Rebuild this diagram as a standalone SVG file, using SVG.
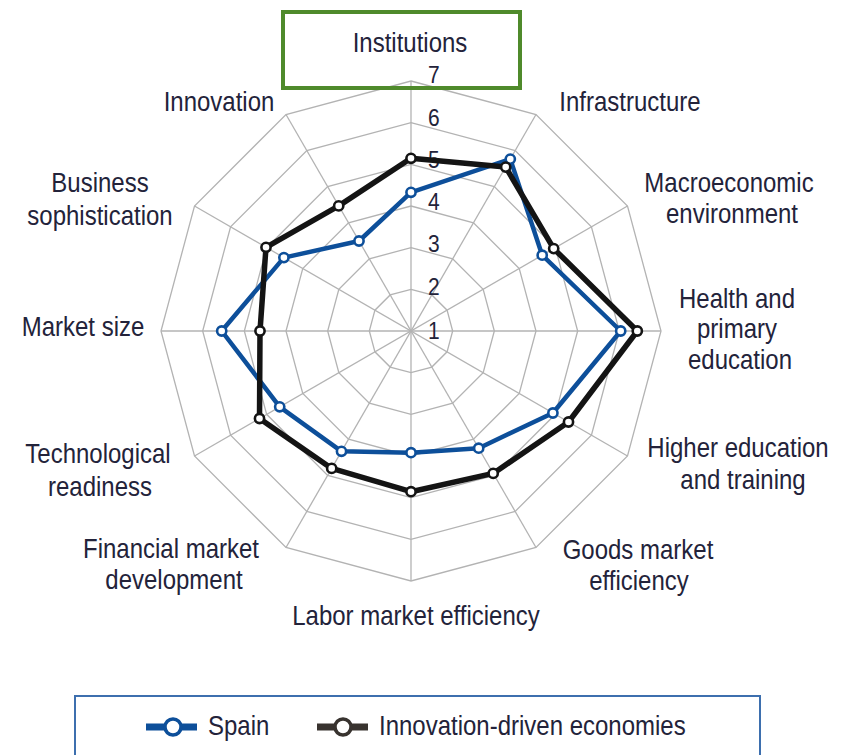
<svg xmlns="http://www.w3.org/2000/svg" width="851" height="755" viewBox="0 0 851 755">
<style>
.bg{fill:#ffffff}
.ring{fill:none;stroke:#b3b3b3;stroke-width:1.3}
.spoke{stroke:#b3b3b3;stroke-width:1.3}
.lbl{font-family:"Liberation Sans",Arial,sans-serif;font-size:24px;fill:#23233a;text-anchor:middle}
.num{font-family:"Liberation Sans",Arial,sans-serif;font-size:21px;fill:#23233a;text-anchor:start}
.leg{font-family:"Liberation Sans",Arial,sans-serif;font-size:24px;fill:#23233a;text-anchor:start}
.sSpain{fill:none;stroke:#0d4f9a;stroke-width:4.5;stroke-linejoin:round}
.sIDE{fill:none;stroke:#141414;stroke-width:5.5;stroke-linejoin:round}
.mSpain{fill:#ffffff;stroke:#0d4f9a;stroke-width:2.6}
.mIDE{fill:#ffffff;stroke:#141414;stroke-width:2.6}
</style>
<rect class="bg" x="0" y="0" width="851" height="755"/>

<g id="grid" transform="translate(411 331)">
<polygon class="ring" points="0,-41.67 20.83,-36.08 36.08,-20.83 41.67,0 36.08,20.83 20.83,36.08 0,41.67 -20.83,36.08 -36.08,20.83 -41.67,0 -36.08,-20.83 -20.83,-36.08"/>
<polygon class="ring" points="0,-83.33 41.67,-72.17 72.17,-41.67 83.33,0 72.17,41.67 41.67,72.17 0,83.33 -41.67,72.17 -72.17,41.67 -83.33,0 -72.17,-41.67 -41.67,-72.17"/>
<polygon class="ring" points="0,-125 62.5,-108.25 108.25,-62.5 125,0 108.25,62.5 62.5,108.25 0,125 -62.5,108.25 -108.25,62.5 -125,0 -108.25,-62.5 -62.5,-108.25"/>
<polygon class="ring" points="0,-166.67 83.33,-144.34 144.34,-83.33 166.67,0 144.34,83.33 83.33,144.34 0,166.67 -83.33,144.34 -144.34,83.33 -166.67,0 -144.34,-83.33 -83.33,-144.34"/>
<polygon class="ring" points="0,-208.33 104.17,-180.42 180.42,-104.17 208.33,0 180.42,104.17 104.17,180.42 0,208.33 -104.17,180.42 -180.42,104.17 -208.33,0 -180.42,-104.17 -104.17,-180.42"/>
<polygon class="ring" points="0,-250 125,-216.5 216.5,-125 250,0 216.5,125 125,216.5 0,250 -125,216.5 -216.5,125 -250,0 -216.5,-125 -125,-216.5"/>
<line class="spoke" x1="0" y1="-250" x2="0" y2="250"/>
<line class="spoke" x1="125" y1="-216.5" x2="-125" y2="216.5"/>
<line class="spoke" x1="216.5" y1="-125" x2="-216.5" y2="125"/>
<line class="spoke" x1="250" y1="0" x2="-250" y2="0"/>
<line class="spoke" x1="216.5" y1="125" x2="-216.5" y2="-125"/>
<line class="spoke" x1="125" y1="216.5" x2="-125" y2="-216.5"/>
</g>

<g id="highlight-box">
<rect x="283" y="12" width="237" height="76" fill="none" stroke="#4f8a2b" stroke-width="4"/>
</g>

<g id="scale">
<text class="num" transform="translate(428 339) scale(1 1.1)">1</text>
<text class="num" transform="translate(428 295) scale(1 1.1)">2</text>
<text class="num" transform="translate(428 252) scale(1 1.1)">3</text>
<text class="num" transform="translate(428 210) scale(1 1.1)">4</text>
<text class="num" transform="translate(428 168) scale(1 1.1)">5</text>
<text class="num" transform="translate(428 126) scale(1 1.1)">6</text>
<text class="num" transform="translate(428 83) scale(1 1.1)">7</text>
</g>

<g id="connectors">
<g id="series-spain">
<polygon class="sSpain" points="411,192.3 510.3,159.1 542.2,255.2 620.7,331 552.9,413 478.7,448.2 411,452.7 341.5,451.3 279.7,406.8 221.7,331 283.9,257.6 359,241"/>
<g>
<circle class="mSpain" cx="411" cy="192.3" r="4.6"/>
<circle class="mSpain" cx="510.3" cy="159.1" r="4.6"/>
<circle class="mSpain" cx="542.2" cy="255.2" r="4.6"/>
<circle class="mSpain" cx="620.7" cy="331" r="4.6"/>
<circle class="mSpain" cx="552.9" cy="413" r="4.6"/>
<circle class="mSpain" cx="478.7" cy="448.2" r="4.6"/>
<circle class="mSpain" cx="411" cy="452.7" r="4.6"/>
<circle class="mSpain" cx="341.5" cy="451.3" r="4.6"/>
<circle class="mSpain" cx="279.7" cy="406.8" r="4.6"/>
<circle class="mSpain" cx="221.7" cy="331" r="4.6"/>
<circle class="mSpain" cx="283.9" cy="257.6" r="4.6"/>
<circle class="mSpain" cx="359" cy="241" r="4.6"/>
</g>
</g>
<g id="series-innovation-driven">
<polygon class="sIDE" points="411,158.3 505.7,167.1 553.7,248.6 637.3,331 568.5,422 493.2,473.4 411,491.7 331.7,468.4 259.5,418.5 260,331 266,247.3 338.7,205.9"/>
<g>
<circle class="mIDE" cx="411" cy="158.3" r="4.6"/>
<circle class="mIDE" cx="505.7" cy="167.1" r="4.6"/>
<circle class="mIDE" cx="553.7" cy="248.6" r="4.6"/>
<circle class="mIDE" cx="637.3" cy="331" r="4.6"/>
<circle class="mIDE" cx="568.5" cy="422" r="4.6"/>
<circle class="mIDE" cx="493.2" cy="473.4" r="4.6"/>
<circle class="mIDE" cx="411" cy="491.7" r="4.6"/>
<circle class="mIDE" cx="331.7" cy="468.4" r="4.6"/>
<circle class="mIDE" cx="259.5" cy="418.5" r="4.6"/>
<circle class="mIDE" cx="260" cy="331" r="4.6"/>
<circle class="mIDE" cx="266" cy="247.3" r="4.6"/>
<circle class="mIDE" cx="338.7" cy="205.9" r="4.6"/>
</g>
</g>
</g>

<g id="label-institutions"><text class="lbl" transform="translate(410 52) scale(1 1.12)">Institutions</text></g>
<g id="label-infrastructure"><text class="lbl" transform="translate(630 111) scale(1 1.12)">Infrastructure</text></g>
<g id="label-macroeconomic"><text class="lbl" transform="translate(729 192) scale(1 1.12)">Macroeconomic</text><text class="lbl" transform="translate(732 223) scale(1 1.12)">environment</text></g>
<g id="label-health"><text class="lbl" transform="translate(737 308) scale(1 1.12)">Health and</text><text class="lbl" transform="translate(737 338) scale(1 1.12)">primary</text><text class="lbl" transform="translate(740 369) scale(1 1.12)">education</text></g>
<g id="label-higher-education"><text class="lbl" transform="translate(738 457) scale(1 1.12)">Higher education</text><text class="lbl" transform="translate(743 489) scale(1 1.12)">and training</text></g>
<g id="label-goods-market"><text class="lbl" transform="translate(638 559) scale(1 1.12)">Goods market</text><text class="lbl" transform="translate(639 590) scale(1 1.12)">efficiency</text></g>
<g id="label-labor-market"><text class="lbl" transform="translate(416 625) scale(1 1.12)">Labor market efficiency</text></g>
<g id="label-financial-market"><text class="lbl" transform="translate(171 558) scale(1 1.12)">Financial market</text><text class="lbl" transform="translate(174 589) scale(1 1.12)">development</text></g>
<g id="label-technological"><text class="lbl" transform="translate(98 463) scale(1 1.12)">Technological</text><text class="lbl" transform="translate(100 496) scale(1 1.12)">readiness</text></g>
<g id="label-market-size"><text class="lbl" transform="translate(83 336) scale(1 1.12)">Market size</text></g>
<g id="label-business"><text class="lbl" transform="translate(100 192) scale(1 1.12)">Business</text><text class="lbl" transform="translate(100 225) scale(1 1.12)">sophistication</text></g>
<g id="label-innovation"><text class="lbl" transform="translate(219 111) scale(1 1.12)">Innovation</text></g>

<g id="legend">
<rect x="75" y="696" width="685" height="70" fill="none" stroke="#3d6fae" stroke-width="2"/>
<line x1="146" y1="727" x2="197" y2="727" stroke="#0d4f9a" stroke-width="7"/>
<circle cx="173" cy="727" r="8" fill="#ffffff" stroke="#0d4f9a" stroke-width="3.5"/>
<text class="leg" transform="translate(208 735) scale(1 1.12)">Spain</text>
<line x1="317" y1="727" x2="368" y2="727" stroke="#38332f" stroke-width="7"/>
<circle cx="343" cy="727" r="8" fill="#ffffff" stroke="#38332f" stroke-width="3.5"/>
<text class="leg" transform="translate(379 735) scale(1 1.12)">Innovation-driven economies</text>
</g>
</svg>
